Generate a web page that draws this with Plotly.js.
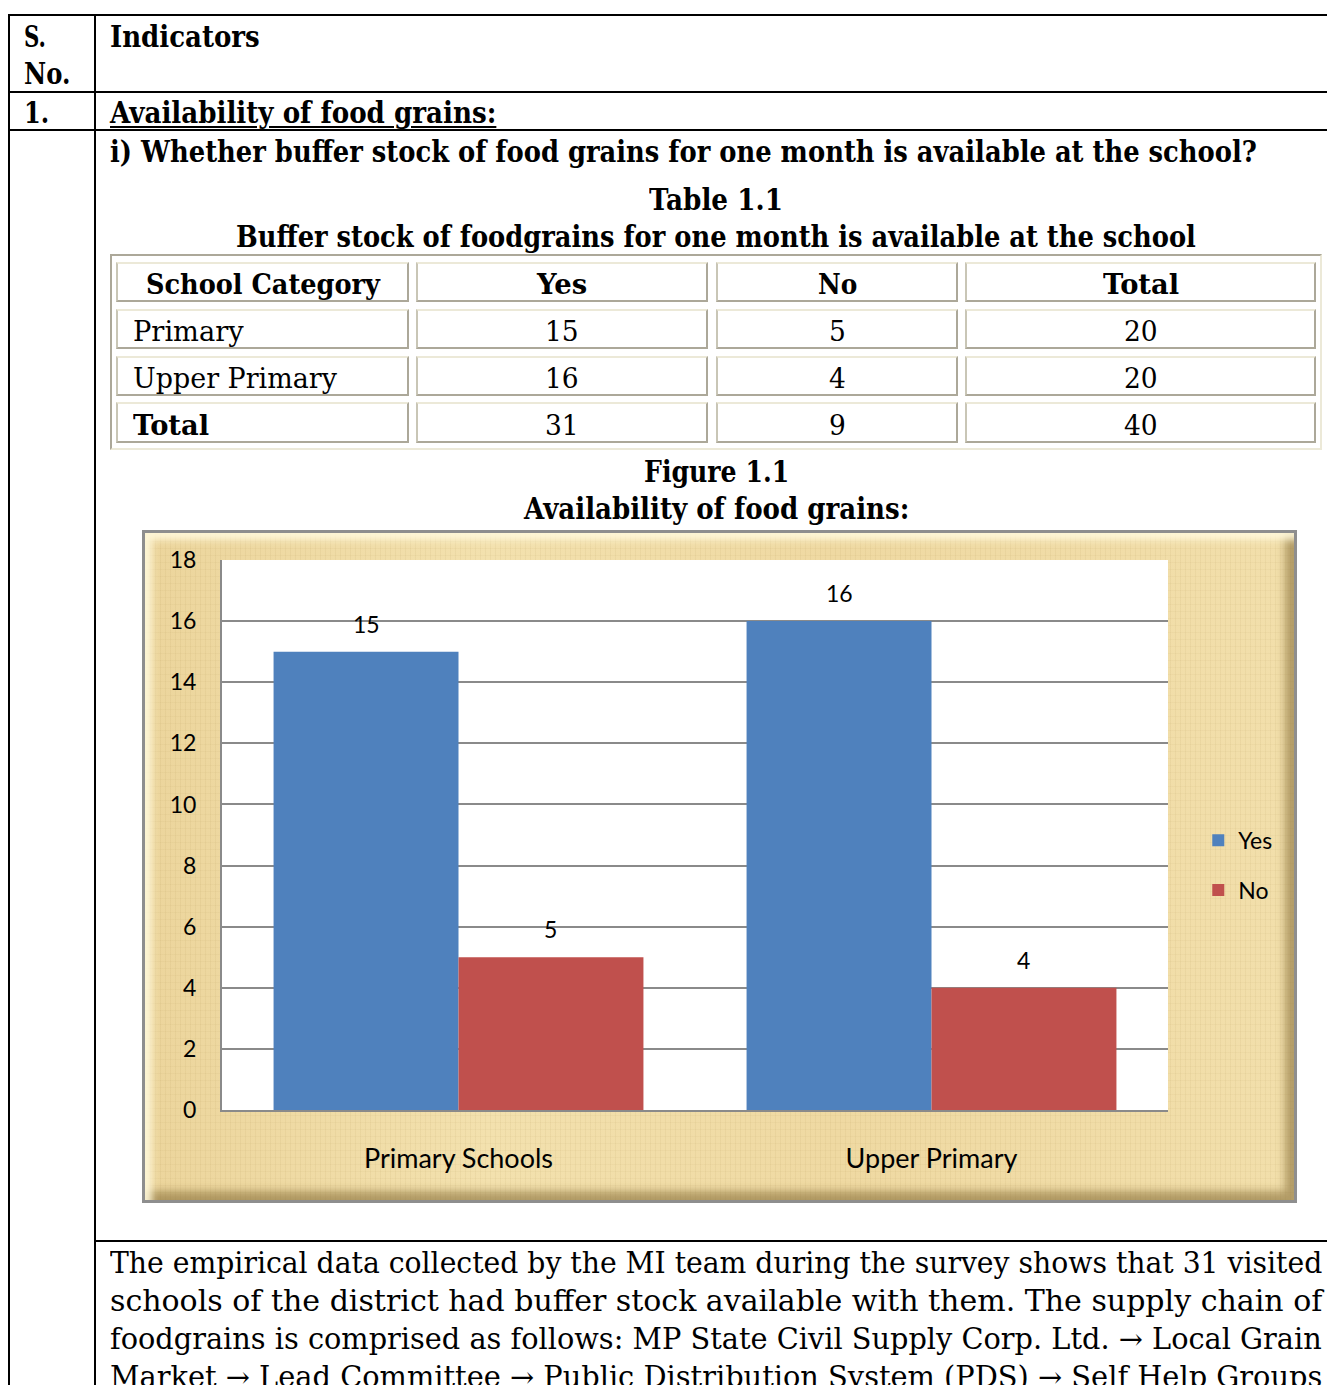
<!DOCTYPE html>
<html><head><meta charset="utf-8">
<script src="https://cdn.plot.ly/plotly-3.0.1.min.js"></script>
<style>
html,body{margin:0;padding:0;background:#fff;}
#page{position:relative;width:1327px;height:1385px;overflow:hidden;background:#fff;}
.ln{position:absolute;background:#000;}
.tx{position:absolute;white-space:nowrap;font-family:"DejaVu Serif",serif;color:#000;transform-origin:0 50%;}
.cell{position:absolute;box-sizing:border-box;border:2px solid #aca899;border-top-color:#ece9d8;border-left-color:#c9c6b6;}
#tbl{position:absolute;left:110px;top:254px;width:1212px;height:196px;box-sizing:border-box;border:2px solid #aca899;border-right-color:#ece9d8;border-bottom-color:#ece9d8;}
#frame{position:absolute;left:142px;top:530px;width:1155px;height:673px;box-sizing:border-box;border:3px solid #8e8e8e;
 background:
  repeating-linear-gradient(90deg, rgba(150,120,50,0.07) 0px, rgba(150,120,50,0.07) 1px, rgba(255,255,255,0) 1px, rgba(255,255,255,0) 5px),
  repeating-linear-gradient(0deg, rgba(150,120,50,0.05) 0px, rgba(150,120,50,0.05) 1px, rgba(255,255,255,0) 1px, rgba(255,255,255,0) 7px),
  linear-gradient(90deg, #ecd59c, #f3e1ae 30%, #efd9a2 60%, #f2dfab);
 box-shadow: inset 7px 7px 7px rgba(255,248,220,0.9), inset -9px -9px 9px rgba(125,100,45,0.55);}
#chart{position:absolute;left:142px;top:530px;width:1155px;height:673px;}
</style>
</head><body>
<div id="page">
  <div id="tbl"></div>
  <div id="frame"></div>
  <div id="chart"></div>
</div>
<script>
// ---------- data ----------
const categories = ['Primary Schools', 'Upper Primary'];
const seriesNames = ['Yes', 'No'];
const yesValues = [15, 16];
const noValues = [5, 4];
const yTicks = [0, 2, 4, 6, 8, 10, 12, 14, 16, 18];

const tableHeader = ['School Category', 'Yes', 'No', 'Total'];
const tableRows = ['Primary', 'Upper Primary', 'Total'];
const tableYes = [15, 16, 31];
const tableNo = [5, 4, 9];
const tableTotal = [20, 20, 40];

const paragraphLines = [
  'The empirical data collected by the MI team during the survey shows that 31 visited',
  'schools of the district had buffer stock available with them. The supply chain of',
  'foodgrains is comprised as follows: MP State Civil Supply Corp. Ltd. \u2192 Local Grain',
  'Market \u2192 Lead Committee \u2192 Public Distribution System (PDS) \u2192 Self Help Groups'
];

// ---------- document frame ----------
const page = document.getElementById('page');
function L(x, y, w, h) { const d = document.createElement('div'); d.className = 'ln';
  Object.assign(d.style, {left: x + 'px', top: y + 'px', width: w + 'px', height: h + 'px'}); page.appendChild(d); }
L(8, 14, 1319, 2); L(8, 14, 2, 1371); L(94, 14, 2, 1371);
L(8, 91, 1319, 2); L(8, 129, 1319, 2); L(94, 1240, 1233, 2);

const items = [];
function T(txt, o) {
  const d = document.createElement('div'); d.className = 'tx'; d.textContent = txt;
  d.style.fontSize = o.size + 'px'; d.style.lineHeight = (o.size * 1.2) + 'px';
  if (o.bold) d.style.fontWeight = 'bold';
  if (o.u) { d.style.textDecoration = 'underline'; d.style.textUnderlineOffset = '3px'; }
  d.style.top = (o.cy - 0.58 * o.size) + 'px';
  page.appendChild(d); items.push([d, o]);
}
function fit() {
  items.forEach(([d, o]) => {
    d.style.transform = 'none';
    const nw = d.offsetWidth;
    const w = o.w || nw * 0.82;
    d.style.transform = 'scaleX(' + (w / nw) + ')';
    d.style.left = (o.cx !== undefined ? o.cx - w / 2 : o.x) + 'px';
  });
}
const H = 29;
T('S.', {x: 24, w: 22, cy: 37, size: H, bold: true});
T('No.', {x: 24, w: 46, cy: 74, size: H, bold: true});
T('Indicators', {x: 110, w: 150, cy: 37, size: H, bold: true});
T('1.', {x: 24, w: 25, cy: 113, size: H, bold: true});
T('Availability of food grains:', {x: 110, w: 386, cy: 113, size: H, bold: true, u: true});
T('i) Whether buffer stock of food grains for one month is available at the school?', {x: 110, w: 1147, cy: 152, size: H, bold: true});
T('Table 1.1', {cx: 716, w: 134, cy: 200, size: H, bold: true});
T('Buffer stock of foodgrains for one month is available at the school', {cx: 716, w: 960, cy: 237, size: H, bold: true});
T('Figure 1.1', {cx: 716, w: 145, cy: 472, size: H, bold: true});
T('Availability of food grains:', {cx: 716, w: 385, cy: 509, size: H, bold: true});
paragraphLines.forEach((s, i) => T(s, {x: 110, w: 1212, cy: 1263 + i * 38, size: H}));

// ---------- table ----------
const colX = [[116, 409], [416, 708], [716, 958], [965, 1316]];
const rowY = [[262, 302], [309, 349], [356, 396], [402, 443]];
const headW = [234, 50, 39, 76];
const rowW = [111, 204, 76];
function cell(c, r) { const d = document.createElement('div'); d.className = 'cell';
  Object.assign(d.style, {left: colX[c][0] + 'px', top: rowY[r][0] + 'px',
    width: (colX[c][1] - colX[c][0]) + 'px', height: (rowY[r][1] - rowY[r][0]) + 'px'}); page.appendChild(d); }
for (let c = 0; c < 4; c++) for (let r = 0; r < 4; r++) cell(c, r);
const TS = 28;
const cyOf = r => (rowY[r][0] + rowY[r][1]) / 2 + 2.5;
const cxOf = c => (colX[c][0] + colX[c][1]) / 2;
tableHeader.forEach((h, c) => T(h, {cx: cxOf(c), w: headW[c], cy: cyOf(0), size: TS, bold: true}));
tableRows.forEach((h, r) => T(h, {x: 133, w: rowW[r], cy: cyOf(r + 1), size: TS, bold: r === 2}));
[tableYes, tableNo, tableTotal].forEach((arr, k) => arr.forEach((v, r) => {
  const s = String(v); T(s, {cx: cxOf(k + 1), w: 17 * s.length, cy: cyOf(r + 1), size: TS});
}));
fit();
if (document.fonts && document.fonts.ready) document.fonts.ready.then(fit);

// ---------- chart ----------
const colors = ['#4f81bd', '#c0504d'];
const seriesValues = [yesValues, noValues];
const bargap = 0.218;
const traces = seriesNames.map((n, i) => ({
  type: 'bar', name: n, x: categories, y: seriesValues[i],
  marker: {color: colors[i], line: {width: 0}}, legendgroup: 'g' + i, hoverinfo: 'none'
}));
const annotations = [];
seriesValues.forEach((vals, i) => vals.forEach((v, j) => {
  annotations.push({x: j + (i === 0 ? -1 : 1) * (1 - bargap) / 4, y: v, xref: 'x', yref: 'y',
    text: String(v), showarrow: false, yanchor: 'middle', yshift: 28,
    font: {family: 'Lato, sans-serif', size: 23, color: '#000'}});
}));
const layout = {
  width: 1155, height: 673,
  margin: {l: 80, r: 129, t: 30, b: 93, pad: 0},
  paper_bgcolor: 'rgba(0,0,0,0)', plot_bgcolor: '#ffffff',
  barmode: 'group', bargap: bargap, bargroupgap: 0,
  font: {family: 'Lato, sans-serif', size: 23, color: '#000'},
  xaxis: {type: 'category', showline: true, linecolor: '#8a8a8a', linewidth: 2, showgrid: false,
    ticks: 'outside', ticklen: 24, tickcolor: 'rgba(0,0,0,0)', tickfont: {size: 27}},
  yaxis: {range: [0, 18], tickvals: yTicks, showgrid: true, gridcolor: '#8a8a8a', gridwidth: 2,
    showline: true, linecolor: '#8a8a8a', linewidth: 2, zeroline: false,
    ticks: 'outside', ticklen: 19, tickcolor: 'rgba(0,0,0,0)', tickfont: {size: 23}},
  legend: {x: 1.032, xanchor: 'left', y: 0.445, yanchor: 'middle', bgcolor: 'rgba(0,0,0,0)',
    font: {size: 23}, traceorder: 'grouped', tracegroupgap: 17},
  annotations: annotations,
  showlegend: true
};
Plotly.newPlot('chart', traces, layout, {displayModeBar: false, staticPlot: true});
</script>
</body></html>
